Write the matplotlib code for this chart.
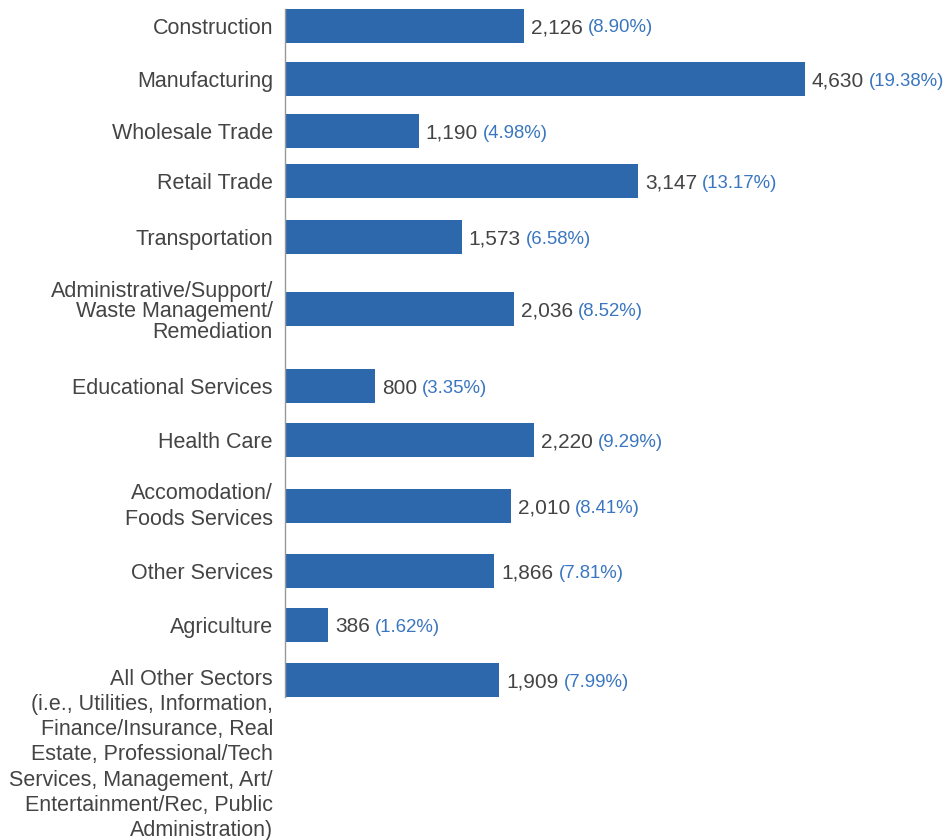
import matplotlib.pyplot as plt

plt.rcParams['font.family'] = ['Liberation Sans', 'DejaVu Sans']

sectors = ['Construction',
           'Manufacturing',
           'Wholesale Trade',
           'Retail Trade',
           'Transportation',
           'Administrative/Support/\nWaste Management/\nRemediation',
           'Educational Services',
           'Health Care',
           'Accomodation/\nFoods Services',
           'Other Services',
           'Agriculture',
           'All Other Sectors\n(i.e., Utilities, Information,\nFinance/Insurance, Real\n'
           'Estate, Professional/Tech\nServices, Management, Art/\n'
           'Entertainment/Rec, Public\nAdministration)']
employees = [2126, 4630, 1190, 3147, 1573, 2036, 800, 2220, 2010, 1866, 386, 1909]
shares = [8.90, 19.38, 4.98, 13.17, 6.58, 8.52, 3.35, 9.29, 8.41, 7.81, 1.62, 7.99]

# layout (pixels from the top of the figure)
row_y = [25.5, 79, 131, 181, 237, 309, 386, 440, 506, 571, 625, 680]
label_top = [17.5, 71, 123, 173, 229, 280.5, 378, 432, 483, 563, 617, 669]
label_spacing = [1.2, 1.2, 1.2, 1.2, 1.2, 0.97, 1.2, 1.2, 1.31, 1.2, 1.2, 1.26]

bar_color = '#2d68ad'
text_color = '#444444'
pct_color = '#3a76c0'

fig = plt.figure(figsize=(9.45, 8.4), dpi=100)
ax = fig.add_axes([285 / 945, 0, 660 / 945, 1])

ax.barh(row_y, employees, height=34, color=bar_color, zorder=2)
ax.set_ylim(840, 0)
ax.set_xlim(0, max(employees) * 1.27)

for sp in ['top', 'right', 'bottom']:
    ax.spines[sp].set_visible(False)
ax.spines['left'].set_color('#999999')
ax.spines['left'].set_linewidth(1)
ax.spines['left'].set_bounds(row_y[0] - 17, row_y[-1] + 17)
ax.set_xticks([])
ax.set_yticks([])

# category labels, right aligned left of the axis
for lab, top, ls in zip(sectors, label_top, label_spacing):
    ax.annotate(lab, xy=(0, top), xycoords=('axes fraction', 'data'),
                xytext=(-12, 0), textcoords='offset pixels',
                ha='right', va='top', fontsize=15.5, color=text_color,
                linespacing=ls, multialignment='right')

# value + share labels
for y, v, p in zip(row_y, employees, shares):
    t = ax.annotate('{:,}'.format(v), xy=(v, y + 7.5), xytext=(7, 0),
                    textcoords='offset pixels', ha='left', va='baseline',
                    fontsize=15, color=text_color)
    ax.annotate('({:.2f}%)'.format(p), xy=(1, 0), xycoords=t,
                xytext=(5, 0.6), textcoords='offset pixels',
                ha='left', va='bottom', fontsize=13.4, color=pct_color)

plt.savefig('out.png', dpi=100)
plt.close(fig)
